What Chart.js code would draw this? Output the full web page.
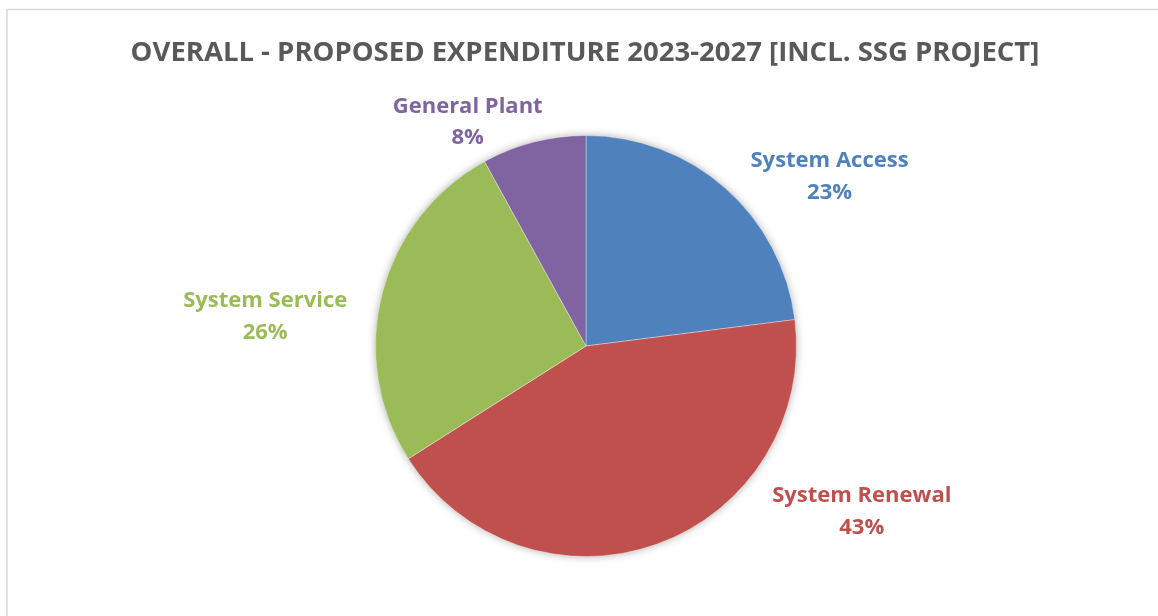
<!DOCTYPE html>
<html>
<head>
<meta charset="utf-8">
<title>Overall - Proposed Expenditure 2023-2027</title>
<script src="https://cdn.jsdelivr.net/npm/chart.js@4/dist/chart.umd.min.js"></script>
<style>
  html, body { margin: 0; padding: 0; background: #ffffff; }
  #wrap { position: relative; width: 1158px; height: 616px; }
</style>
</head>
<body>
<div id="wrap"><canvas id="chart" width="1158" height="616"></canvas></div>
<script>
// Expenditure shares by category (percent of total)
const categories = ['System Access', 'System Renewal', 'System Service', 'General Plant'];
const shares = [23, 43, 26, 8];
const sliceColors = ['#4F81BD', '#C0504D', '#9BBB59', '#8064A2'];
const chartTitle = 'OVERALL - PROPOSED EXPENDITURE 2023-2027 [INCL. SSG PROJECT]';

// Label block centres, expressed in pie radii from the pie centre
const labelOffsets = [
  [1.157, -0.805],
  [1.310, 0.788],
  [-1.524, -0.140],
  [-0.562, -1.062]
];

const FONT = '"Open Sans", "Noto Sans", sans-serif';

// Light frame around the chart area
const framePlugin = {
  id: 'frame',
  beforeDraw(chart) {
    const ctx = chart.ctx;
    ctx.save();
    ctx.strokeStyle = '#d9d9d9';
    ctx.lineWidth = 1.5;
    ctx.strokeRect(7, 9.5, 1400, 900);
    ctx.restore();
  }
};

// Title line at the top
const titlePlugin = {
  id: 'topTitle',
  afterDraw(chart) {
    const ctx = chart.ctx;
    ctx.save();
    ctx.font = 'bold 27.5px ' + FONT;
    ctx.fillStyle = '#595959';
    ctx.textAlign = 'center';
    ctx.textBaseline = 'alphabetic';
    ctx.fillText(chartTitle, 585, 61);
    ctx.restore();
  }
};

// Soft drop shadow beneath the whole pie
const shadowPlugin = {
  id: 'pieShadow',
  beforeDatasetsDraw(chart) {
    const arc = chart.getDatasetMeta(0).data[0];
    if (!arc) return;
    const ctx = chart.ctx;
    ctx.save();
    ctx.shadowColor = 'rgba(0,0,0,0.35)';
    ctx.shadowBlur = 9;
    ctx.shadowOffsetX = 0;
    ctx.shadowOffsetY = 0;
    ctx.fillStyle = '#ffffff';
    ctx.beginPath();
    ctx.arc(arc.x, arc.y, arc.outerRadius - 0.5, 0, Math.PI * 2);
    ctx.fill();
    ctx.restore();
  }
};

// Category name + percentage next to each slice
const sliceLabelPlugin = {
  id: 'sliceLabels',
  afterDatasetsDraw(chart) {
    const ctx = chart.ctx;
    const meta = chart.getDatasetMeta(0);
    ctx.save();
    ctx.font = 'bold 22px ' + FONT;
    ctx.textAlign = 'center';
    ctx.textBaseline = 'middle';
    meta.data.forEach((arc, i) => {
      const r = arc.outerRadius;
      const cx = arc.x + labelOffsets[i][0] * r;
      const cy = arc.y + labelOffsets[i][1] * r;
      ctx.fillStyle = sliceColors[i];
      ctx.fillText(categories[i], cx, cy - 15.75);
      ctx.fillText(shares[i] + '%', cx, cy + 15.75);
    });
    ctx.restore();
  }
};

new Chart(document.getElementById('chart'), {
  type: 'pie',
  data: {
    labels: categories,
    datasets: [{
      data: shares,
      backgroundColor: sliceColors,
      borderColor: 'rgba(255,255,255,0.35)',
      borderWidth: 1
    }]
  },
  options: {
    responsive: false,
    animation: false,
    events: [],
    layout: { padding: { top: 135, bottom: 59, left: 375, right: 361 } },
    plugins: {
      legend: { display: false },
      title: { display: false },
      tooltip: { enabled: false }
    }
  },
  plugins: [framePlugin, shadowPlugin, sliceLabelPlugin, titlePlugin]
});
</script>
</body>
</html>
